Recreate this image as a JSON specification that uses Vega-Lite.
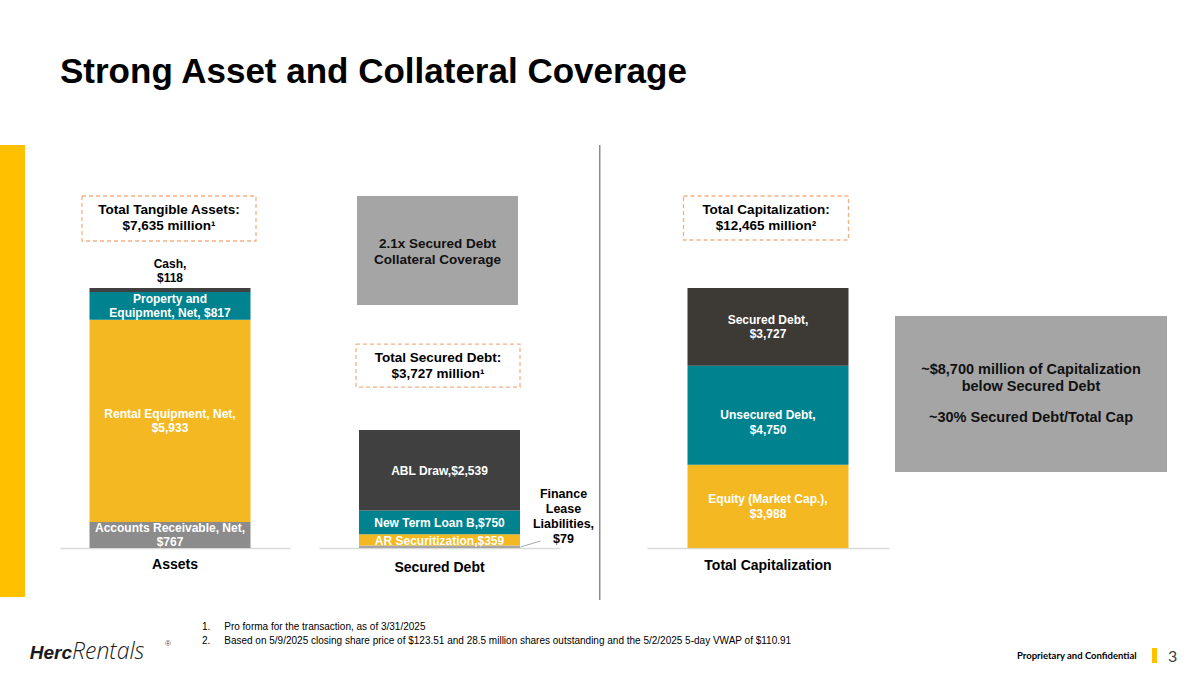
{
  "$schema": "https://vega.github.io/schema/vega-lite/v6.json",
  "background": "white",
  "padding": {"left": 0, "top": 55, "right": 0, "bottom": 0},
  "autosize": {"type": "pad"},
  "config": {"font": "Liberation Sans", "view": {"stroke": null}},
  "title": {"text": "Strong Asset and Collateral Coverage", "anchor": "start", "dx": 60, "fontSize": 35, "fontWeight": "bold", "font": "Liberation Sans", "color": "#000000", "offset": 55},
  "datasets": {
    "assets": [
      {"panel": "Assets", "item": "Accounts Receivable", "value": 767, "order": 1, "label": "Accounts Receivable, Net,\n$767"},
      {"panel": "Assets", "item": "Rental Equipment", "value": 5933, "order": 2, "label": "Rental Equipment, Net,\n$5,933"},
      {"panel": "Assets", "item": "Property and Equipment", "value": 817, "order": 3, "label": "Property and\nEquipment, Net, $817"},
      {"panel": "Assets", "item": "Cash", "value": 118, "order": 4, "label": "Cash,\n$118"}
    ],
    "secured": [
      {"panel": "Secured Debt", "item": "Finance Lease Liabilities", "value": 79, "order": 1, "label": "Finance\nLease\nLiabilities,\n$79"},
      {"panel": "Secured Debt", "item": "AR Securitization", "value": 359, "order": 2, "label": "AR Securitization,$359"},
      {"panel": "Secured Debt", "item": "New Term Loan B", "value": 750, "order": 3, "label": "New Term Loan B,$750"},
      {"panel": "Secured Debt", "item": "ABL Draw", "value": 2539, "order": 4, "label": "ABL Draw,$2,539"}
    ],
    "cap": [
      {"panel": "Total Capitalization", "item": "Equity (Market Cap.)", "value": 3988, "order": 1, "label": "Equity (Market Cap.),\n$3,988"},
      {"panel": "Total Capitalization", "item": "Unsecured Debt", "value": 4750, "order": 2, "label": "Unsecured Debt,\n$4,750"},
      {"panel": "Total Capitalization", "item": "Secured Debt", "value": 3727, "order": 3, "label": "Secured Debt,\n$3,727"}
    ]
  },
  "vconcat": [
    {
      "hconcat": [
        {"width": 25, "height": 452, "data": {"values": []}, "mark": "text", "encoding": {}, "view": {"fill": "#FFC000", "stroke": null}},
        {"width": 35, "height": 1, "data": {"values": []}, "mark": "text", "encoding": {}},
        {
          "width": 230, "height": 403,
          "layer": [
            {
              "data": {"name": "assets"},
              "mark": {"type": "bar", "size": 161, "xOffset": -5},
              "encoding": {
                "x": {"field": "panel", "type": "nominal", "title": null, "axis": {"labelAngle": 0, "labelFontSize": 14, "labelFontWeight": "bold", "labelColor": "#000000", "labelPadding": 9, "ticks": false, "domainColor": "#D9D9D9", "domainWidth": 1.5}},
                "y": {"field": "value", "type": "quantitative", "stack": "zero", "scale": {"domain": [0, 11834], "nice": false}, "axis": null},
                "color": {"field": "item", "type": "nominal", "legend": null, "scale": {"domain": ["Cash", "Property and Equipment", "Rental Equipment", "Accounts Receivable", "ABL Draw", "New Term Loan B", "AR Securitization", "Finance Lease Liabilities", "Secured Debt", "Unsecured Debt", "Equity (Market Cap.)"], "range": ["#404040", "#00838F", "#F4B922", "#8C8C8C", "#404040", "#00838F", "#F4B922", "#A6A6A6", "#3D3935", "#00838F", "#F4B922"]}},
                "order": {"field": "order", "type": "quantitative"}
              }
            },
            {
              "data": {"name": "assets"},
              "mark": {"type": "text", "color": "#FFFFFF", "fontWeight": "bold", "fontSize": 12, "lineBreak": "\n", "lineHeight": 14.5, "baseline": "middle", "xOffset": -5, "dy": -7},
              "encoding": {
                "x": {"field": "panel", "type": "nominal"},
                "y": {"field": "value", "type": "quantitative", "stack": "zero", "bandPosition": 0.5},
                "detail": {"field": "item"},
                "order": {"field": "order", "type": "quantitative"},
                "text": {"condition": {"test": "datum.item !== 'Cash'", "field": "label"}, "value": ""}
              }
            },
            {
              "data": {"name": "assets"},
              "mark": {"type": "text", "color": "#000000", "fontWeight": "bold", "fontSize": 12, "lineBreak": "\n", "lineHeight": 14, "baseline": "middle", "dy": -24, "xOffset": -5},
              "encoding": {
                "x": {"field": "panel", "type": "nominal"},
                "y": {"field": "value", "type": "quantitative", "stack": "zero"},
                "detail": {"field": "item"},
                "order": {"field": "order", "type": "quantitative"},
                "text": {"condition": {"test": "datum.item === 'Cash'", "field": "label"}, "value": ""}
              }
            },
            {
              "data": {"values": [{}]},
              "mark": {"type": "bar", "size": 174, "xOffset": -6, "fill": "#FFFFFF", "stroke": "#F4B183", "strokeWidth": 1.3, "strokeDash": [4, 3]},
              "encoding": {"x": {"datum": "Assets"}, "y": {"datum": 10337}, "y2": {"datum": 9015}}
            },
            {
              "data": {"values": [{}]},
              "mark": {"type": "text", "text": "Total Tangible Assets:\n$7,635 million¹", "lineBreak": "\n", "fontSize": 13.5, "fontWeight": "bold", "lineHeight": 16, "baseline": "middle", "color": "#000000", "xOffset": -6},
              "encoding": {"x": {"datum": "Assets"}, "y": {"datum": 9925}}
            }
          ]
        },
        {"width": 29, "height": 1, "data": {"values": []}, "mark": "text", "encoding": {}},
        {
          "width": 241, "height": 403,
          "layer": [
            {
              "data": {"name": "secured"},
              "mark": {"type": "bar", "size": 161},
              "encoding": {
                "x": {"field": "panel", "type": "nominal", "title": null, "axis": {"labelAngle": 0, "labelFontSize": 14, "labelFontWeight": "bold", "labelColor": "#000000", "labelPadding": 12, "ticks": false, "domainColor": "#D9D9D9", "domainWidth": 1.5}},
                "y": {"field": "value", "type": "quantitative", "stack": "zero", "scale": {"domain": [0, 12729], "nice": false}, "axis": null},
                "color": {"field": "item", "type": "nominal", "legend": null, "scale": {"domain": ["Cash", "Property and Equipment", "Rental Equipment", "Accounts Receivable", "ABL Draw", "New Term Loan B", "AR Securitization", "Finance Lease Liabilities", "Secured Debt", "Unsecured Debt", "Equity (Market Cap.)"], "range": ["#404040", "#00838F", "#F4B922", "#8C8C8C", "#404040", "#00838F", "#F4B922", "#A6A6A6", "#3D3935", "#00838F", "#F4B922"]}},
                "order": {"field": "order", "type": "quantitative"}
              }
            },
            {
              "data": {"name": "secured"},
              "mark": {"type": "text", "color": "#FFFFFF", "fontWeight": "bold", "fontSize": 12, "lineBreak": "\n", "lineHeight": 14.5, "baseline": "middle", "dy": 1},
              "encoding": {
                "x": {"field": "panel", "type": "nominal"},
                "y": {"field": "value", "type": "quantitative", "stack": "zero", "bandPosition": 0.5},
                "detail": {"field": "item"},
                "order": {"field": "order", "type": "quantitative"},
                "text": {"condition": {"test": "datum.item !== 'Finance Lease Liabilities'", "field": "label"}, "value": ""}
              }
            },
            {
              "data": {"name": "secured"},
              "mark": {"type": "text", "color": "#000000", "fontWeight": "bold", "fontSize": 12.5, "lineBreak": "\n", "lineHeight": 15, "baseline": "middle", "dx": 124, "dy": -53},
              "encoding": {
                "x": {"field": "panel", "type": "nominal"},
                "y": {"field": "value", "type": "quantitative", "stack": "zero", "bandPosition": 0.5},
                "detail": {"field": "item"},
                "order": {"field": "order", "type": "quantitative"},
                "text": {"condition": {"test": "datum.item === 'Finance Lease Liabilities'", "field": "label"}, "value": ""}
              }
            },
            {
              "data": {"values": [{}]},
              "mark": {"type": "rule", "color": "#A6A6A6", "strokeWidth": 1, "xOffset": 81, "x2Offset": 101},
              "encoding": {"x": {"datum": "Secured Debt"}, "x2": {"datum": "Secured Debt"}, "y": {"datum": 32}, "y2": {"datum": 221}}
            },
            {
              "data": {"values": [{}]},
              "mark": {"type": "bar", "size": 161, "xOffset": -2, "color": "#A5A5A5"},
              "encoding": {"x": {"datum": "Secured Debt"}, "y": {"datum": 11116}, "y2": {"datum": 7674}}
            },
            {
              "data": {"values": [{}]},
              "mark": {"type": "text", "text": "2.1x Secured Debt\nCollateral Coverage", "lineBreak": "\n", "fontSize": 13.5, "fontWeight": "bold", "lineHeight": 16, "baseline": "middle", "color": "#111111", "xOffset": -2},
              "encoding": {"x": {"datum": "Secured Debt"}, "y": {"datum": 9600}}
            },
            {
              "data": {"values": [{}]},
              "mark": {"type": "bar", "size": 164, "xOffset": -1.5, "fill": "#FFFFFF", "stroke": "#F4B183", "strokeWidth": 1.3, "strokeDash": [4, 3]},
              "encoding": {"x": {"datum": "Secured Debt"}, "y": {"datum": 6442}, "y2": {"datum": 5084}}
            },
            {
              "data": {"values": [{}]},
              "mark": {"type": "text", "text": "Total Secured Debt:\n$3,727 million¹", "lineBreak": "\n", "fontSize": 13.5, "fontWeight": "bold", "lineHeight": 16, "baseline": "middle", "color": "#000000", "xOffset": -1.5},
              "encoding": {"x": {"datum": "Secured Debt"}, "y": {"datum": 6000}}
            }
          ]
        },
        {"width": 39, "height": 1, "data": {"values": []}, "mark": "text", "encoding": {}},
        {"width": 1.5, "height": 455, "data": {"values": []}, "mark": "text", "encoding": {}, "view": {"fill": "#8C8C8C", "stroke": null}},
        {"width": 46, "height": 1, "data": {"values": []}, "mark": "text", "encoding": {}},
        {
          "width": 242, "height": 403,
          "layer": [
            {
              "data": {"name": "cap"},
              "mark": {"type": "bar", "size": 161},
              "encoding": {
                "x": {"field": "panel", "type": "nominal", "title": null, "axis": {"labelAngle": 0, "labelFontSize": 14, "labelFontWeight": "bold", "labelColor": "#000000", "labelPadding": 10, "ticks": false, "domainColor": "#D9D9D9", "domainWidth": 1.5}},
                "y": {"field": "value", "type": "quantitative", "stack": "zero", "scale": {"domain": [0, 19321], "nice": false}, "axis": null},
                "color": {"field": "item", "type": "nominal", "legend": null, "scale": {"domain": ["Cash", "Property and Equipment", "Rental Equipment", "Accounts Receivable", "ABL Draw", "New Term Loan B", "AR Securitization", "Finance Lease Liabilities", "Secured Debt", "Unsecured Debt", "Equity (Market Cap.)"], "range": ["#404040", "#00838F", "#F4B922", "#8C8C8C", "#404040", "#00838F", "#F4B922", "#A6A6A6", "#3D3935", "#00838F", "#F4B922"]}},
                "order": {"field": "order", "type": "quantitative"}
              }
            },
            {
              "data": {"name": "cap"},
              "mark": {"type": "text", "color": "#FFFFFF", "fontWeight": "bold", "fontSize": 12, "lineBreak": "\n", "lineHeight": 14.5, "baseline": "middle", "dy": -7},
              "encoding": {
                "x": {"field": "panel", "type": "nominal"},
                "y": {"field": "value", "type": "quantitative", "stack": "zero", "bandPosition": 0.5},
                "detail": {"field": "item"},
                "order": {"field": "order", "type": "quantitative"},
                "text": {"condition": {"test": "datum.item !== 'Unsecured Debt'", "field": "label"}, "value": ""}
              }
            },
            {
              "data": {"name": "cap"},
              "mark": {"type": "text", "color": "#FFFFFF", "fontWeight": "bold", "fontSize": 12, "lineBreak": "\n", "lineHeight": 14.5, "baseline": "middle", "dy": 0},
              "encoding": {
                "x": {"field": "panel", "type": "nominal"},
                "y": {"field": "value", "type": "quantitative", "stack": "zero", "bandPosition": 0.5},
                "detail": {"field": "item"},
                "order": {"field": "order", "type": "quantitative"},
                "text": {"condition": {"test": "datum.item === 'Unsecured Debt'", "field": "label"}, "value": ""}
              }
            },
            {
              "data": {"values": [{}]},
              "mark": {"type": "bar", "size": 165, "xOffset": -2, "fill": "#FFFFFF", "stroke": "#F4B183", "strokeWidth": 1.3, "strokeDash": [4, 3]},
              "encoding": {"x": {"datum": "Total Capitalization"}, "y": {"datum": 16875}, "y2": {"datum": 14766}}
            },
            {
              "data": {"values": [{}]},
              "mark": {"type": "text", "text": "Total Capitalization:\n$12,465 million²", "lineBreak": "\n", "fontSize": 13.5, "fontWeight": "bold", "lineHeight": 16, "baseline": "middle", "color": "#000000", "xOffset": -2},
              "encoding": {"x": {"datum": "Total Capitalization"}, "y": {"datum": 16204}}
            }
          ]
        },
        {"width": 6, "height": 1, "data": {"values": []}, "mark": "text", "encoding": {}},
        {
          "width": 272, "height": 403,
          "layer": [
            {
              "data": {"values": [{}]},
              "mark": {"type": "rect", "color": "#A5A5A5"},
              "encoding": {"y": {"datum": 11122, "type": "quantitative", "scale": {"domain": [0, 19321], "nice": false}, "axis": null}, "y2": {"datum": 3643}}
            },
            {
              "data": {"values": [{}]},
              "mark": {"type": "text", "text": "~$8,700 million of Capitalization\nbelow Secured Debt", "lineBreak": "\n", "fontSize": 14.5, "fontWeight": "bold", "lineHeight": 17, "baseline": "middle", "color": "#111111"},
              "encoding": {"y": {"datum": 8533}}
            },
            {
              "data": {"values": [{}]},
              "mark": {"type": "text", "text": "~30% Secured Debt/Total Cap", "fontSize": 14.5, "fontWeight": "bold", "baseline": "middle", "color": "#111111"},
              "encoding": {"y": {"datum": 6232}}
            }
          ]
        }
      ],
      "spacing": 0,
      "bounds": "flush",
      "resolve": {"scale": {"x": "independent", "y": "independent", "color": "shared"}}
    },
    {
      "hconcat": [
        {"width": 33, "height": 1, "data": {"values": []}, "mark": "text", "encoding": {}},
        {"width": 39, "height": 1, "data": {"values": []}, "mark": "text", "encoding": {}, "title": {"text": "Herc", "orient": "bottom", "anchor": "end", "offset": -5, "fontSize": 19, "fontStyle": "italic", "fontWeight": "bold", "font": "Liberation Sans", "color": "#1A1A1A"}},
        {"width": 90, "height": 1, "data": {"values": []}, "mark": "text", "encoding": {}, "title": {"text": "Rentals", "orient": "bottom", "anchor": "start", "offset": -8, "fontSize": 23, "fontStyle": "italic", "fontWeight": 300, "font": "Open Sans", "color": "#1A1A1A"}},
        {"width": 40, "height": 1, "data": {"values": []}, "mark": "text", "encoding": {}, "title": {"text": "®", "orient": "bottom", "anchor": "start", "offset": -9, "fontSize": 8, "fontWeight": "normal", "color": "#555555", "dx": 3}},
        {"width": 815, "height": 1, "data": {"values": []}, "mark": "text", "encoding": {}, "title": {"text": ["1.\u00a0\u00a0\u00a0\u00a0\u00a0Pro forma for the transaction, as of 3/31/2025", "2.\u00a0\u00a0\u00a0\u00a0\u00a0Based on 5/9/2025 closing share price of $123.51 and 28.5 million shares outstanding and the 5/2/2025 5-day VWAP of $110.91"], "orient": "bottom", "anchor": "start", "offset": -27, "fontSize": 10, "fontWeight": "normal", "lineHeight": 14, "font": "Liberation Sans", "color": "#000000"}},
        {"width": 135, "height": 1, "data": {"values": []}, "mark": "text", "encoding": {}, "title": {"text": "Proprietary and Confidential", "orient": "bottom", "anchor": "start", "offset": 2, "fontSize": 9.5, "fontWeight": "bold", "font": "Lato", "color": "#000000"}},
        {"width": 5, "height": 15, "data": {"values": []}, "mark": "text", "encoding": {}, "view": {"fill": "#FFC000", "stroke": null}},
        {"width": 11, "height": 1, "data": {"values": []}, "mark": "text", "encoding": {}},
        {"width": 20, "height": 1, "data": {"values": []}, "mark": "text", "encoding": {}, "title": {"text": "3", "orient": "bottom", "anchor": "start", "offset": 0, "fontSize": 16, "fontWeight": "normal", "font": "Lato", "color": "#404040"}}
      ],
      "spacing": 0,
      "bounds": "flush"
    }
  ],
  "spacing": 22,
  "bounds": "full"
}
